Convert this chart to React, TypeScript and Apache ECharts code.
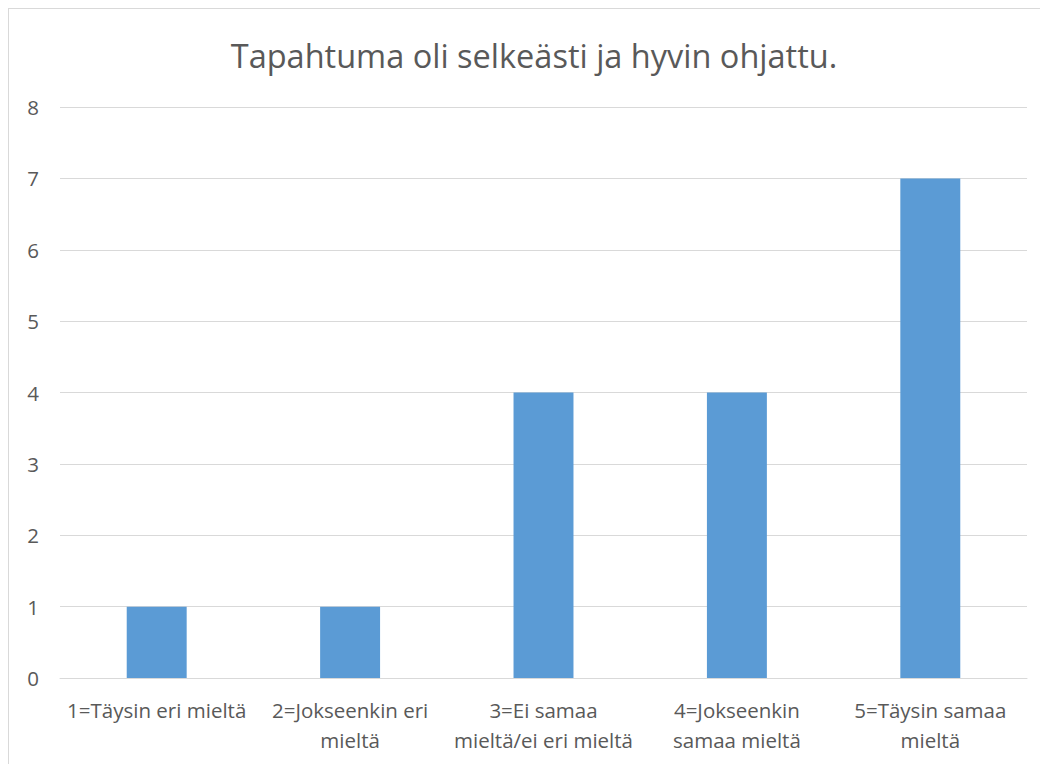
import React, { useEffect, useRef } from "react";
import * as echarts from "echarts";

const titleText = "Tapahtuma oli selkeästi ja hyvin ohjattu.";
const categories = [
  "1=Täysin eri mieltä",
  "2=Jokseenkin eri\nmieltä",
  "3=Ei samaa\nmieltä/ei eri mieltä",
  "4=Jokseenkin\nsamaa mieltä",
  "5=Täysin samaa\nmieltä",
];
const values = [1, 1, 4, 4, 7];
const yMin = 0;
const yMax = 8;
const yInterval = 1;

const FONT = "'Open Sans', 'Noto Sans', sans-serif";
const TEXT = "#595959";

export default function App() {
  const ref = useRef<HTMLDivElement>(null);
  useEffect(() => {
    if (!ref.current) return;
    const chart = echarts.init(ref.current, null, { renderer: "svg" });
    chart.setOption({
      animation: false,
      backgroundColor: "#ffffff",
      title: {
        text: titleText,
        left: 520,
        top: 25,
        textAlign: "center",
        textStyle: { fontFamily: FONT, fontSize: 32.5, fontWeight: "normal", color: TEXT },
      },
      grid: { left: 51, top: 98, width: 967, height: 571, containLabel: false },
      xAxis: {
        type: "category",
        data: categories,
        axisLine: { show: true, lineStyle: { color: "#D9D9D9", width: 1 } },
        axisTick: { show: false },
        axisLabel: {
          interval: 0,
          color: TEXT,
          fontFamily: FONT,
          fontSize: 20.5,
          lineHeight: 30,
          margin: 17,
          align: "center",
        },
      },
      yAxis: {
        type: "value",
        min: yMin,
        max: yMax,
        interval: yInterval,
        axisLine: { show: false },
        axisTick: { show: false },
        splitLine: { lineStyle: { color: "#D9D9D9", width: 1 } },
        axisLabel: { color: TEXT, fontFamily: FONT, fontSize: 20.5, margin: 21 },
      },
      series: [
        {
          type: "bar",
          data: values,
          barWidth: "31%",
          itemStyle: { color: "#5B9BD5" },
        },
      ],
    });
    return () => chart.dispose();
  }, []);
  return (
    <div
      style={{
        width: 1040,
        height: 756,
        borderTop: "1px solid #D9D9D9",
        borderLeft: "1px solid #D9D9D9",
        boxSizing: "border-box",
        overflow: "hidden",
      }}
    >
      <div ref={ref} style={{ width: 1039, height: 755 }} />
    </div>
  );
}
